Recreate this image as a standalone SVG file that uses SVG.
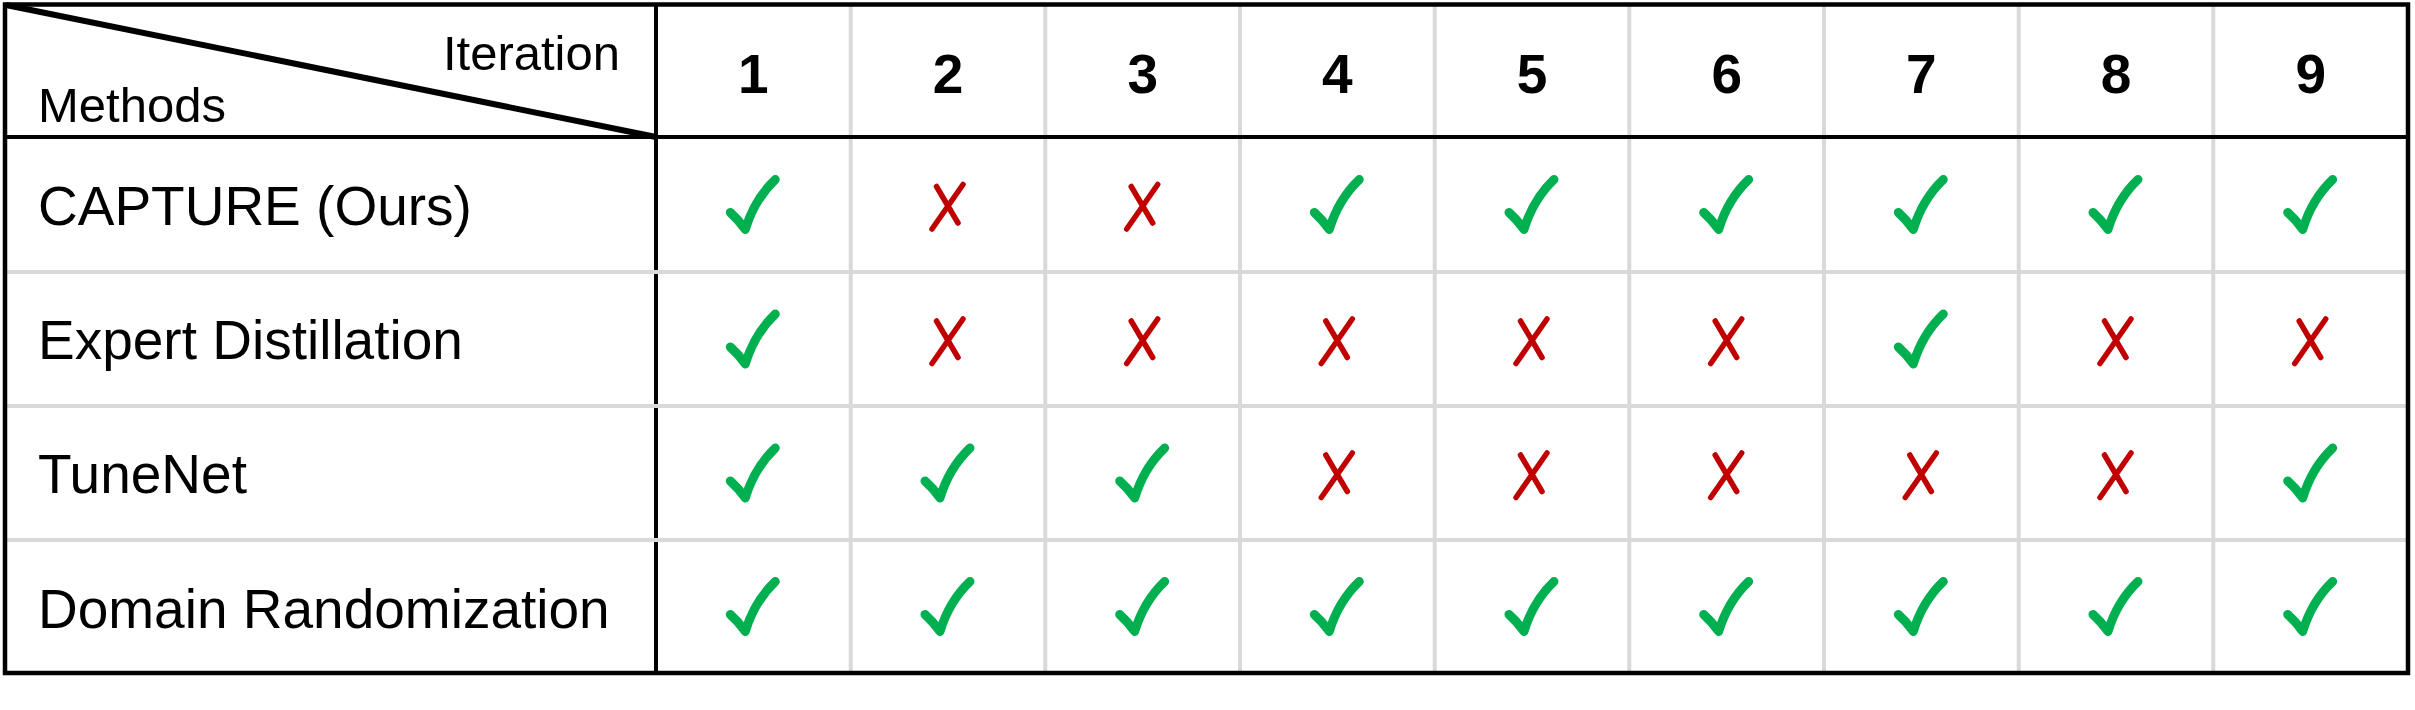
<svg xmlns="http://www.w3.org/2000/svg" xmlns:xlink="http://www.w3.org/1999/xlink" width="2415" height="710" viewBox="0 0 2415 710">
<style>
.lbl{font-family:"Liberation Sans",Arial,sans-serif;font-size:55px;fill:#000}
.hdr{font-family:"Liberation Sans",Arial,sans-serif;font-size:49px;fill:#000}
.num{font-family:"Liberation Sans",Arial,sans-serif;font-size:55px;font-weight:bold;fill:#000;text-anchor:middle}
.grid{stroke:#d9d9d9;stroke-width:4;fill:none}
.blk{stroke:#000;stroke-width:4;fill:none}
.ok{stroke:#00b050;stroke-width:9;fill:none;stroke-linecap:round;stroke-linejoin:round}
.no{stroke:#c00000;stroke-width:5.5;fill:none;stroke-linecap:round}
</style>
<defs>
<path id="chk" class="ok" d="M -23,8 Q -15,15 -8,25 Q 1,-5 22,-25"/>
<path id="crs" class="no" d="M -11.5,-18 L 10,18.5 M 15,-20 L -16,24.5"/>
</defs>
<rect x="0" y="0" width="2415" height="710" fill="#fff"/>
<g id="grid-lines">
<g class="grid">
<line x1="850.7" y1="5" x2="850.7" y2="672"/>
<line x1="1045.3" y1="5" x2="1045.3" y2="672"/>
<line x1="1240" y1="5" x2="1240" y2="672"/>
<line x1="1434.7" y1="5" x2="1434.7" y2="672"/>
<line x1="1629.3" y1="5" x2="1629.3" y2="672"/>
<line x1="1824" y1="5" x2="1824" y2="672"/>
<line x1="2018.7" y1="5" x2="2018.7" y2="672"/>
<line x1="2213.3" y1="5" x2="2213.3" y2="672"/>
</g>
<line class="blk" x1="656" y1="5" x2="656" y2="672"/>
<g class="grid">
<line x1="5" y1="272" x2="2408" y2="272"/>
<line x1="5" y1="406" x2="2408" y2="406"/>
<line x1="5" y1="540" x2="2408" y2="540"/>
</g>
<line class="blk" x1="5" y1="137" x2="2408" y2="137"/>
<line x1="6" y1="5" x2="656" y2="137" stroke="#000" stroke-width="6"/>
<rect x="5" y="4.5" width="2403" height="668.5" fill="none" stroke="#000" stroke-width="4.5"/>
</g>
<g id="header">
<text class="hdr" x="620" y="70" text-anchor="end">Iteration</text>
<text class="hdr" x="38" y="122">Methods</text>
<text class="num" x="753.3" y="93">1</text>
<text class="num" x="948" y="93">2</text>
<text class="num" x="1142.7" y="93">3</text>
<text class="num" x="1337.3" y="93">4</text>
<text class="num" x="1532" y="93">5</text>
<text class="num" x="1726.7" y="93">6</text>
<text class="num" x="1921.3" y="93">7</text>
<text class="num" x="2116" y="93">8</text>
<text class="num" x="2310.7" y="93">9</text>
</g>
<g id="row-capture">
<text class="lbl" x="38" y="225">CAPTURE (Ours)</text>
<use xlink:href="#chk" x="753.3" y="204.5"/>
<use xlink:href="#crs" x="948" y="204.5"/>
<use xlink:href="#crs" x="1142.7" y="204.5"/>
<use xlink:href="#chk" x="1337.3" y="204.5"/>
<use xlink:href="#chk" x="1532" y="204.5"/>
<use xlink:href="#chk" x="1726.7" y="204.5"/>
<use xlink:href="#chk" x="1921.3" y="204.5"/>
<use xlink:href="#chk" x="2116" y="204.5"/>
<use xlink:href="#chk" x="2310.7" y="204.5"/>
</g>
<g id="row-expert">
<text class="lbl" x="38" y="359">Expert Distillation</text>
<use xlink:href="#chk" x="753.3" y="339"/>
<use xlink:href="#crs" x="948" y="339"/>
<use xlink:href="#crs" x="1142.7" y="339"/>
<use xlink:href="#crs" x="1337.3" y="339"/>
<use xlink:href="#crs" x="1532" y="339"/>
<use xlink:href="#crs" x="1726.7" y="339"/>
<use xlink:href="#chk" x="1921.3" y="339"/>
<use xlink:href="#crs" x="2116" y="339"/>
<use xlink:href="#crs" x="2310.7" y="339"/>
</g>
<g id="row-tunenet">
<text class="lbl" x="38" y="493">TuneNet</text>
<use xlink:href="#chk" x="753.3" y="473"/>
<use xlink:href="#chk" x="948" y="473"/>
<use xlink:href="#chk" x="1142.7" y="473"/>
<use xlink:href="#crs" x="1337.3" y="473"/>
<use xlink:href="#crs" x="1532" y="473"/>
<use xlink:href="#crs" x="1726.7" y="473"/>
<use xlink:href="#crs" x="1921.3" y="473"/>
<use xlink:href="#crs" x="2116" y="473"/>
<use xlink:href="#chk" x="2310.7" y="473"/>
</g>
<g id="row-domain">
<text class="lbl" x="38" y="628">Domain Randomization</text>
<use xlink:href="#chk" x="753.3" y="606.5"/>
<use xlink:href="#chk" x="948" y="606.5"/>
<use xlink:href="#chk" x="1142.7" y="606.5"/>
<use xlink:href="#chk" x="1337.3" y="606.5"/>
<use xlink:href="#chk" x="1532" y="606.5"/>
<use xlink:href="#chk" x="1726.7" y="606.5"/>
<use xlink:href="#chk" x="1921.3" y="606.5"/>
<use xlink:href="#chk" x="2116" y="606.5"/>
<use xlink:href="#chk" x="2310.7" y="606.5"/>
</g>
</svg>
